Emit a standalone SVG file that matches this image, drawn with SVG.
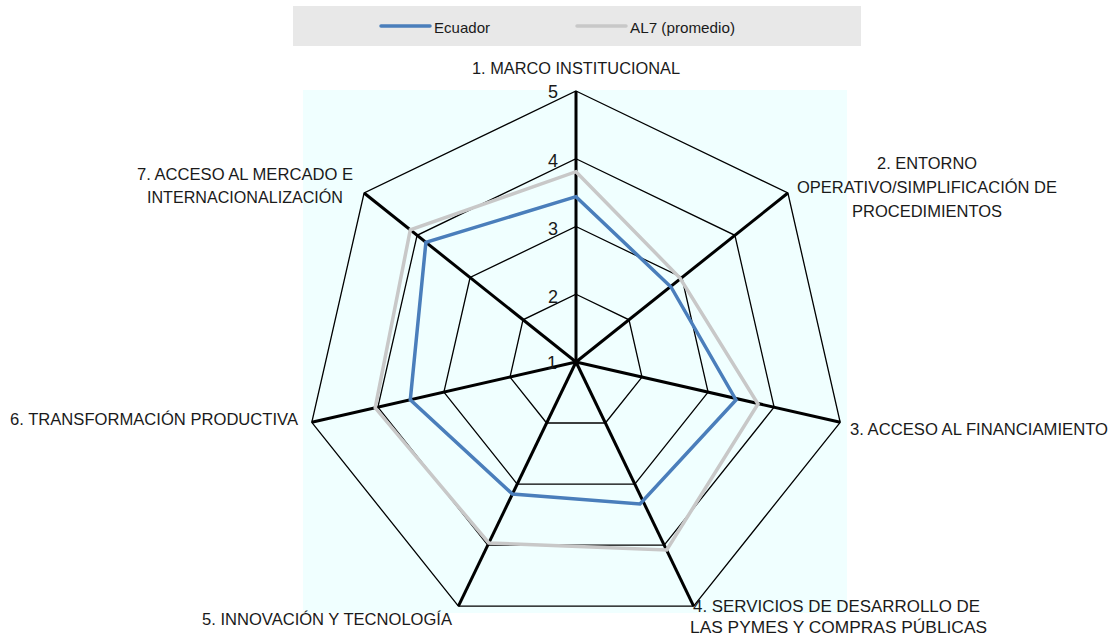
<svg xmlns="http://www.w3.org/2000/svg" width="1113" height="638" viewBox="0 0 1113 638">
<style>
.lbl{font-family:"Liberation Sans",Arial,sans-serif;font-size:16px;fill:#1a1a1a}
.tick{font-family:"Liberation Sans",Arial,sans-serif;font-size:18px;fill:#1a1a1a;text-anchor:end}
.leg{font-family:"Liberation Sans",Arial,sans-serif;font-size:15px;fill:#1a1a1a}
.ring{fill:none;stroke:#000;stroke-width:1.3}
.axis{stroke:#000;stroke-width:3}
.ecu{fill:none;stroke:#4a7ebb;stroke-width:3.5;stroke-linejoin:miter}
.al7{fill:none;stroke:#c8c8c8;stroke-width:3.5;stroke-linejoin:miter}
</style>
<rect x="0" y="0" width="1113" height="638" fill="#ffffff"/>
<g id="legend">
<rect x="293" y="6" width="568" height="40" fill="#e8e8e8"/>
<line x1="381" y1="26" x2="430" y2="26" stroke="#4a7ebb" stroke-width="3.5" stroke-linecap="round"/>
<text class="leg" x="434" y="33" textLength="56" lengthAdjust="spacingAndGlyphs">Ecuador</text>
<line x1="577" y1="26" x2="626" y2="26" stroke="#c8c8c8" stroke-width="3.5" stroke-linecap="round"/>
<text class="leg" x="630" y="33" textLength="105" lengthAdjust="spacingAndGlyphs">AL7 (promedio)</text>
</g>
<rect id="plot-area" x="303" y="90" width="544" height="523" fill="#f0ffff"/>
<g id="grid">
<polygon class="ring" points="576,294.25 629,319.8 642,377.1 605.4,423 546.6,423 510,377.1 523,319.8"/>
<polygon class="ring" points="576,226.5 681.9,277.5 708.1,392.1 634.8,484.1 517.2,484.1 443.9,392.1 470.1,277.5"/>
<polygon class="ring" points="576,158.75 734.9,235.3 774.1,407.2 664.2,545.1 487.8,545.1 377.9,407.2 417.1,235.3"/>
<polygon class="ring" points="576,91 787.9,193 840.2,422.3 693.6,606.2 458.4,606.2 311.8,422.3 364.1,193"/>
</g>
<g id="connectors">
<line class="axis" x1="576" y1="362" x2="576" y2="91"/>
<line class="axis" x1="576" y1="362" x2="787.9" y2="193"/>
<line class="axis" x1="576" y1="362" x2="840.2" y2="422.3"/>
<line class="axis" x1="576" y1="362" x2="693.6" y2="606.2"/>
<line class="axis" x1="576" y1="362" x2="458.4" y2="606.2"/>
<line class="axis" x1="576" y1="362" x2="311.8" y2="422.3"/>
<line class="axis" x1="576" y1="362" x2="364.1" y2="193"/>
</g>
<g id="ticks">
<text class="tick" x="558" y="98">5</text>
<text class="tick" x="558" y="167">4</text>
<text class="tick" x="558" y="235">3</text>
<text class="tick" x="558" y="303">2</text>
<text class="tick" x="557" y="369" fill="#555">1</text>
</g>
<g id="series">
<polygon id="al7" class="al7" points="576,171.7 680,278 758,404 666.7,550 488.8,543 375.2,407.8 410.3,229.8"/>
<polygon id="ecuador" class="ecu" points="576,196.7 671,287 736,400 640,504 512.4,494 410.3,399.8 425.9,242.3"/>
</g>
<g id="label-1"><text class="lbl" x="472" y="74" textLength="208" lengthAdjust="spacingAndGlyphs">1. MARCO INSTITUCIONAL</text></g>
<g id="label-2">
<text class="lbl" x="877" y="169" textLength="100" lengthAdjust="spacingAndGlyphs">2. ENTORNO</text>
<text class="lbl" x="797" y="193" textLength="260" lengthAdjust="spacingAndGlyphs">OPERATIVO/SIMPLIFICACIÓN DE</text>
<text class="lbl" x="852" y="217" textLength="150" lengthAdjust="spacingAndGlyphs">PROCEDIMIENTOS</text>
</g>
<g id="label-3"><text class="lbl" x="850" y="435" textLength="258" lengthAdjust="spacingAndGlyphs">3. ACCESO AL FINANCIAMIENTO</text></g>
<g id="label-4">
<text class="lbl" x="693" y="612" textLength="287" lengthAdjust="spacingAndGlyphs">4. SERVICIOS DE DESARROLLO DE</text>
<text class="lbl" x="690" y="633" textLength="297" lengthAdjust="spacingAndGlyphs">LAS PYMES Y COMPRAS PÚBLICAS</text>
</g>
<g id="label-5"><text class="lbl" x="202" y="625" textLength="250" lengthAdjust="spacingAndGlyphs">5. INNOVACIÓN Y TECNOLOGÍA</text></g>
<g id="label-6"><text class="lbl" x="10" y="425" textLength="288" lengthAdjust="spacingAndGlyphs">6. TRANSFORMACIÓN PRODUCTIVA</text></g>
<g id="label-7">
<text class="lbl" x="137" y="180" textLength="216" lengthAdjust="spacingAndGlyphs">7. ACCESO AL MERCADO E</text>
<text class="lbl" x="147" y="203" textLength="196" lengthAdjust="spacingAndGlyphs">INTERNACIONALIZACIÓN</text>
</g>
</svg>
